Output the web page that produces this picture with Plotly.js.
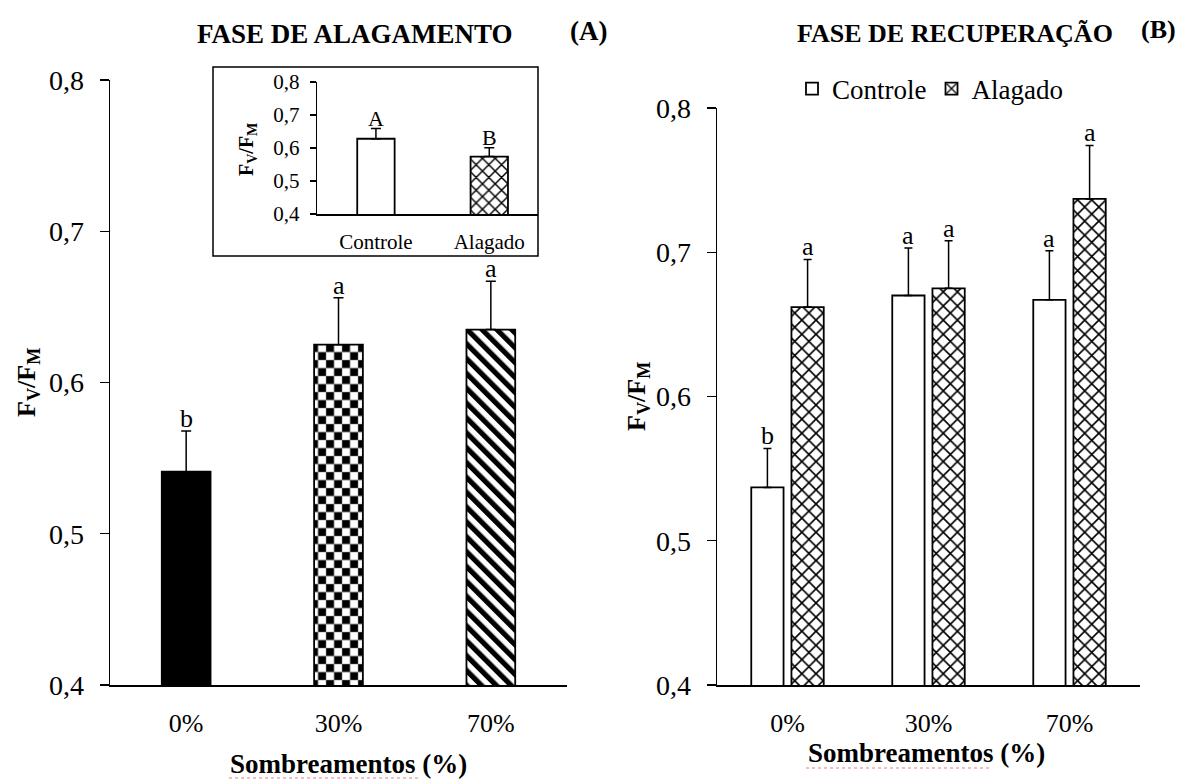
<!DOCTYPE html>
<html>
<head>
<meta charset="utf-8">
<script src="https://cdn.plot.ly/plotly-3.0.1.min.js"></script>
<style>
  html, body { margin: 0; padding: 0; background: #fff; }
  #chart { width: 1183px; height: 780px; }
</style>
</head>
<body>
<div id="chart"></div>
<script>
// Shading levels (x categories)
const shading = ['0%', '30%', '70%'];

// Flooding phase, Fv/Fm by shading level
const floodMean = [0.541, 0.625, 0.635];
const floodErr = [0.027, 0.031, 0.032];
const floodLetters = ['b', 'a', 'a'];

// Inset: Fv/Fm by treatment during flooding
const insetCats = ['Controle', 'Alagado'];
const insetMean = [0.628, 0.574];
const insetErr = [0.031, 0.027];
const insetLetters = ['A', 'B'];

// Recovery phase, Fv/Fm by treatment and shading level
const recControle = [0.537, 0.670, 0.667];
const recControleErr = [0.027, 0.033, 0.034];
const recControleLetters = ['b', 'a', 'a'];
const recAlagado = [0.662, 0.675, 0.737];
const recAlagadoErr = [0.033, 0.033, 0.037];
const recAlagadoLetters = ['a', 'a', 'a'];

// Shared y ticks
const yTickVals = [0.4, 0.5, 0.6, 0.7, 0.8];
const yTickText = ['0,4', '0,5', '0,6', '0,7', '0,8'];

const SERIF = '"Liberation Serif", "Times New Roman", serif';
const W = 1183, H = 780;
const px = v => v / W;
const py = v => 1 - v / H;
const zeros = n => new Array(n).fill(0);
const f = (size) => ({ family: SERIF, size: size, color: '#000' });

const errStyle = (arr, w) => ({
  type: 'data', symmetric: false, array: arr, arrayminus: zeros(arr.length),
  color: '#000', thickness: 1.5, width: w
});
const outline = { color: '#000', width: 1.8 };
const crossHatch = (size) => ({ shape: 'x', fgcolor: '#000', bgcolor: '#fff', size: size, solidity: 0.3 });

const traces = [
  // Panel A (fills for 30% and 70% are set after drawing)
  {
    type: 'bar', x: shading, y: floodMean, xaxis: 'x', yaxis: 'y',
    width: 0.32, showlegend: false, hoverinfo: 'skip',
    marker: { color: ['#000', '#fff', '#fff'], line: outline },
    error_y: errStyle(floodErr, 5)
  },
  // Panel B, controle
  {
    type: 'bar', name: 'Controle', x: shading, y: recControle, xaxis: 'x2', yaxis: 'y2',
    width: 0.229, offset: -0.257, hoverinfo: 'skip',
    marker: { color: '#fff', line: outline },
    error_y: errStyle(recControleErr, 4)
  },
  // Panel B, alagado
  {
    type: 'bar', name: 'Alagado', x: shading, y: recAlagado, xaxis: 'x2', yaxis: 'y2',
    width: 0.229, offset: 0.028, hoverinfo: 'skip',
    marker: { color: '#fff', line: outline, pattern: crossHatch(10) },
    error_y: errStyle(recAlagadoErr, 4)
  },
  // Inset
  {
    type: 'bar', x: insetCats, y: insetMean, xaxis: 'x3', yaxis: 'y3',
    width: 0.33, showlegend: false, hoverinfo: 'skip',
    marker: {
      color: '#fff', line: outline,
      pattern: { shape: ['', 'x'], fgcolor: '#000', bgcolor: '#fff', size: 9, solidity: 0.3 }
    },
    error_y: errStyle(insetErr, 5)
  }
];

const yAxisBase = (fs) => ({
  range: [0.4, 0.8], tickvals: yTickVals, ticktext: yTickText,
  ticks: 'outside', ticklen: 9, tickwidth: 1.3, tickcolor: '#000',
  showline: true, linecolor: '#000', linewidth: 1.3,
  showgrid: false, zeroline: false, fixedrange: true,
  tickfont: f(fs)
});
const xAxisBase = (fs) => ({
  type: 'category', ticks: '', showline: true, linecolor: '#000', linewidth: 1.8,
  showgrid: false, zeroline: false, fixedrange: true,
  tickfont: f(fs)
});

const annotations = [];
const ann = (o) => annotations.push(Object.assign({
  showarrow: false, xanchor: 'center', yanchor: 'middle', font: f(22)
}, o));

// Panel titles
ann({ xref: 'paper', yref: 'paper', x: px(355), y: py(34), text: '<b>FASE DE ALAGAMENTO</b>', font: f(27) });
ann({ xref: 'paper', yref: 'paper', x: px(588), y: py(31), text: '<b>(A)</b>', font: f(27) });
ann({ xref: 'paper', yref: 'paper', x: px(955), y: py(34), text: '<b>FASE DE RECUPERAÇÃO</b>', font: f(26) });
ann({ xref: 'paper', yref: 'paper', x: px(1158), y: py(30), text: '<b>(B)</b>', font: f(26) });

// Axis titles
const fvfm = '<b>F<sub>V</sub>/F<sub>M</sub></b>';
ann({ xref: 'paper', yref: 'paper', x: px(28), y: py(383), text: fvfm, textangle: -90, font: f(26) });
ann({ xref: 'paper', yref: 'paper', x: px(638), y: py(397), text: fvfm, textangle: -90, font: f(26) });
ann({ xref: 'paper', yref: 'paper', x: px(247), y: py(150), text: fvfm, textangle: -90, font: f(20) });
ann({ xref: 'paper', yref: 'paper', x: px(348), y: py(764), text: '<b>Sombreamentos (%)</b>', font: f(27) });
ann({ xref: 'paper', yref: 'paper', x: px(926), y: py(753), text: '<b>Sombreamentos (%)</b>', font: f(27) });

// Significance letters above the error bars
floodMean.forEach((m, i) => ann({ xref: 'x', yref: 'y', x: i, y: m + floodErr[i], yanchor: 'bottom', yshift: -4, text: floodLetters[i], font: f(26) }));
recControle.forEach((m, i) => ann({ xref: 'x2', yref: 'y2', x: i - 0.1425, y: m + recControleErr[i], yanchor: 'bottom', yshift: -4, text: recControleLetters[i], font: f(26) }));
recAlagado.forEach((m, i) => ann({ xref: 'x2', yref: 'y2', x: i + 0.1425, y: m + recAlagadoErr[i], yanchor: 'bottom', yshift: -4, text: recAlagadoLetters[i], font: f(26) }));
insetMean.forEach((m, i) => ann({ xref: 'x3', yref: 'y3', x: i, y: m + insetErr[i], yanchor: 'bottom', yshift: -4, text: insetLetters[i], font: f(22) }));

const layout = {
  width: W, height: H,
  margin: { l: 0, r: 0, t: 0, b: 0 },
  paper_bgcolor: '#fff', plot_bgcolor: 'rgba(0,0,0,0)',
  barmode: 'overlay',
  font: f(20),
  xaxis: Object.assign(xAxisBase(26), { domain: [px(110), px(567)], range: [-0.5, 2.5], anchor: 'y', ticklabelstandoff: 14 }),
  yaxis: Object.assign(yAxisBase(28), { domain: [py(685), py(80)], anchor: 'x', ticklabelstandoff: 10 }),
  xaxis2: Object.assign(xAxisBase(26), { domain: [px(717), px(1140)], range: [-0.5, 2.5], anchor: 'y2', ticklabelstandoff: 14 }),
  yaxis2: Object.assign(yAxisBase(28), { domain: [py(685), py(108)], anchor: 'x2', ticklabelstandoff: 10 }),
  xaxis3: Object.assign(xAxisBase(21), { domain: [px(317), px(538)], range: [-0.52, 1.43], anchor: 'y3', ticklabelstandoff: 8, linewidth: 1.5 }),
  yaxis3: Object.assign(yAxisBase(21), { domain: [py(214), py(82)], anchor: 'x3', ticklen: 6, ticklabelstandoff: 6 }),
  showlegend: true,
  legend: {
    orientation: 'h', x: px(930), xanchor: 'center', y: py(89), yanchor: 'middle',
    font: f(27), bgcolor: 'rgba(0,0,0,0)',
    itemwidth: 30, tracegroupgap: 0
  },
  shapes: [
    // inset frame
    { type: 'rect', xref: 'paper', yref: 'paper', x0: px(213), x1: px(538), y0: py(256), y1: py(67),
      line: { color: '#000', width: 1.5 }, fillcolor: 'rgba(0,0,0,0)', layer: 'above' },
    // proofing underline beneath "Sombreamentos"
    { type: 'line', xref: 'paper', yref: 'paper', x0: px(229), x1: px(418), y0: py(778), y1: py(778),
      line: { color: '#e08080', width: 1, dash: 'dot' } },
    { type: 'line', xref: 'paper', yref: 'paper', x0: px(806), x1: px(992), y0: py(768), y1: py(768),
      line: { color: '#e08080', width: 1, dash: 'dot' } }
  ],
  annotations: annotations
};

// Custom fills for the flooding panel: checkerboard (30%) and diagonal stripes (70%)
function applyFills(gd) {
  const ns = 'http://www.w3.org/2000/svg';
  const svg = gd.querySelector('svg.main-svg');
  let defs = svg.querySelector('defs');
  if (!defs) { defs = document.createElementNS(ns, 'defs'); svg.insertBefore(defs, svg.firstChild); }
  const mkPattern = (id, size, rects, transform) => {
    if (svg.querySelector('#' + id)) return;
    const pat = document.createElementNS(ns, 'pattern');
    pat.setAttribute('id', id);
    pat.setAttribute('patternUnits', 'userSpaceOnUse');
    pat.setAttribute('width', size);
    pat.setAttribute('height', size);
    if (transform) pat.setAttribute('patternTransform', transform);
    rects.forEach(c => {
      const r = document.createElementNS(ns, 'rect');
      r.setAttribute('x', c[0]); r.setAttribute('y', c[1]);
      r.setAttribute('width', c[2]); r.setAttribute('height', c[3]);
      r.setAttribute('fill', c[4]);
      pat.appendChild(r);
    });
    defs.appendChild(pat);
  };
  mkPattern('checker', 16, [[0, 0, 16, 16, '#888'], [0.5, 0.5, 7.3, 7.3, '#000'], [8.3, 8.3, 7.3, 7.3, '#000'],
                            [8.3, 0.5, 7.3, 7.3, '#fff'], [0.5, 8.3, 7.3, 7.3, '#fff']]);
  mkPattern('stripes', 10.5, [[0, 0, 10.5, 10.5, '#fff'], [0, 0, 5.2, 10.5, '#000']], 'rotate(-45)');
  const trace = gd.querySelector('.subplot.xy .barlayer .trace');
  if (trace) {
    const paths = trace.querySelectorAll('.point path');
    if (paths[1]) paths[1].style.fill = 'url(#checker)';
    if (paths[2]) paths[2].style.fill = 'url(#stripes)';
  }
}

const gd = document.getElementById('chart');
Plotly.newPlot(gd, traces, layout, { staticPlot: true, displayModeBar: false }).then(() => applyFills(gd));
</script>
</body>
</html>
